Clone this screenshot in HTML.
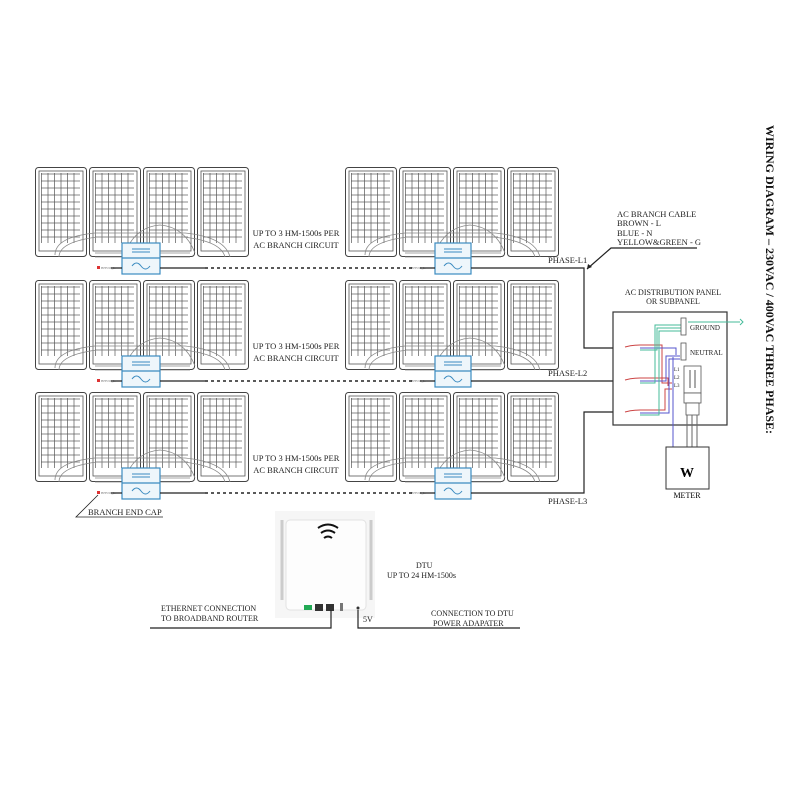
<!DOCTYPE html>
<html><head><meta charset="utf-8"><style>
html,body{margin:0;padding:0;background:#fff;}
svg{display:block;font-family:"Liberation Serif",serif;}
</style></head><body>
<svg width="800" height="800" viewBox="0 0 800 800" xmlns="http://www.w3.org/2000/svg">
<defs>
<pattern id="grid" x="0" y="0" width="6.5" height="7" patternUnits="userSpaceOnUse">
<rect width="6.5" height="7" fill="#fff" stroke="#555" stroke-width="0.7"/>
</pattern>
<symbol id="panel" width="52" height="90" viewBox="0 0 52 90">
<rect x="0.5" y="0.5" width="51" height="89" rx="3" fill="#fff" stroke="#444" stroke-width="1"/>
<rect x="4" y="4" width="44" height="80" fill="#fff" stroke="#555" stroke-width="0.8"/>
<rect x="6" y="6" width="39" height="70" fill="url(#grid)"/>
</symbol>
<symbol id="row" width="560" height="120" viewBox="0 0 560 120">
<use href="#panel" x="0" y="0"/><use href="#panel" x="54" y="0"/><use href="#panel" x="108" y="0"/><use href="#panel" x="162" y="0"/>
<use href="#panel" x="310" y="0"/><use href="#panel" x="364" y="0"/><use href="#panel" x="418" y="0"/><use href="#panel" x="472" y="0"/>
<g fill="none" stroke="#888" stroke-width="0.8">
<path d="M20 88 Q20 70 60 66 L150 66 Q190 70 195 90"/>
<path d="M24 90 Q24 75 62 70 L148 70 Q186 74 190 90"/>
<path d="M90 86 Q100 60 125 58 Q150 60 160 86"/>
<path d="M330 88 Q330 70 370 66 L460 66 Q500 70 505 90"/>
<path d="M334 90 Q334 75 372 70 L458 70 Q496 74 500 90"/>
<path d="M400 86 Q410 60 435 58 Q460 60 470 86"/>
<path d="M60 90 L87 90 M60 86 L87 86 M125 90 L155 90 M125 86 L155 86"/>
<path d="M370 90 L400 90 M370 86 L400 86 M436 90 L466 90 M436 86 L466 86"/>
</g>
<g stroke="#3b8bc0" stroke-width="1.2" fill="#eef6fb">
<rect x="87" y="76" width="38" height="31"/>
<line x1="87" y1="91" x2="125" y2="91"/>
<rect x="400" y="76" width="36" height="31"/>
<line x1="400" y1="91" x2="436" y2="91"/>
</g>
<g stroke="#3b8bc0" stroke-width="1" fill="none">
<path d="M97 82 H115 M97 85 H115"/><path d="M97 99 q4.5 -6 9 0 t9 0"/>
<path d="M409 82 H427 M409 85 H427"/><path d="M409 99 q4.5 -6 9 0 t9 0"/>
</g>
<rect x="62" y="99" width="3" height="3" fill="#d33"/>
<text x="66" y="102" font-size="3.5" fill="#777">BHVM_L</text>
<text x="376" y="102" font-size="3.5" fill="#777">BHVM_L</text>
<path d="M76 101 H87 M125 101 H170" stroke="#222" stroke-width="1.2"/>
<path d="M170 101 H380" stroke="#222" stroke-width="1.5" stroke-dasharray="3,3"/>
<path d="M385 101 H400 M436 101 H505" stroke="#222" stroke-width="1.2"/>
</symbol>
</defs>

<use href="#row" x="35" y="167"/>
<use href="#row" x="35" y="280"/>
<use href="#row" x="35" y="392"/>

<g font-size="8.5" fill="#222" text-anchor="middle">
<text x="296" y="236">UP TO 3 HM-1500s PER</text>
<text x="296" y="248">AC BRANCH CIRCUIT</text>
<text x="296" y="349">UP TO 3 HM-1500s PER</text>
<text x="296" y="361">AC BRANCH CIRCUIT</text>
<text x="296" y="461">UP TO 3 HM-1500s PER</text>
<text x="296" y="473">AC BRANCH CIRCUIT</text>
</g>
<g font-size="8.5" fill="#222">
<text x="548" y="263">PHASE-L1</text>
<text x="548" y="376">PHASE-L2</text>
<text x="548" y="504">PHASE-L3</text>
<text x="617" y="217">AC BRANCH CABLE</text>
<text x="617" y="226">BROWN - L</text>
<text x="617" y="236">BLUE - N</text>
<text x="617" y="245">YELLOW&amp;GREEN - G</text>
<text x="88" y="515">BRANCH END CAP</text>
</g>
<g stroke="#222" stroke-width="1.2" fill="none">
<path d="M540 268 H584 V348 H625"/>
<path d="M540 381 H625"/>
<path d="M540 493 H584 V412 H625"/>
<path d="M697 248 H611 L587 269"/>
<path d="M98 495 L76 517 H163" stroke-width="0.8"/>
</g>
<path d="M587 269 l1 -5 l4 3 z" fill="#222"/>

<g font-size="8" fill="#222" text-anchor="middle">
<text x="673" y="295">AC DISTRIBUTION PANEL</text>
<text x="673" y="304">OR SUBPANEL</text>
</g>
<rect x="613" y="312" width="114" height="113" fill="#fff" stroke="#333" stroke-width="1.2"/>
<g fill="none" stroke-width="1">
<path d="M625 347 Q632 345 640 345 H662 V383 H672" stroke="#c44"/>
<path d="M625 380 Q632 378 640 378 H668 V386" stroke="#c44"/>
<path d="M625 412 Q632 410 640 410 H665 V389 H672" stroke="#c44"/>
<path d="M640 348 H676 V355" stroke="#55c"/>
<path d="M640 381 H666 V356 H680" stroke="#55c"/>
<path d="M640 413 H669 V359 H680" stroke="#55c"/>
<path d="M640 350 H657 V328 H683" stroke="#4b9"/>
<path d="M640 383 H655 V325 H683" stroke="#4b9"/>
<path d="M640 415 H659 V331 H683" stroke="#4b9"/>
<path d="M688 322 H740" stroke="#4b9"/>
<path d="M673 357 V447" stroke="#55c"/>
</g>
<path d="M740 319 l3 3 l-3 3" fill="none" stroke="#4b9"/>
<g fill="#fff" stroke="#555" stroke-width="0.8">
<rect x="681" y="318" width="5" height="17"/>
<rect x="681" y="343" width="5" height="17"/>
<rect x="684" y="366" width="17" height="27"/>
<rect x="684" y="393" width="17" height="10"/>
<rect x="686" y="403" width="13" height="12"/>
</g>
<path d="M690 370 V388 M695 370 V388" stroke="#555"/>
<g font-size="7" fill="#222">
<text x="690" y="330">GROUND</text>
<text x="690" y="355">NEUTRAL</text>
<text x="674" y="371" font-size="5">L1</text>
<text x="674" y="379" font-size="5">L2</text>
<text x="674" y="387" font-size="5">L3</text>
</g>
<path d="M687 415 V447 M692 415 V447 M697 415 V447" stroke="#666"/>
<rect x="666" y="447" width="43" height="42" fill="#fff" stroke="#333" stroke-width="1"/>
<text x="687" y="477" font-size="14" font-weight="bold" text-anchor="middle">W</text>
<text x="687" y="498" font-size="8" text-anchor="middle">METER</text>

<rect x="275" y="511" width="100" height="107" fill="#f6f6f6"/>
<path d="M282 520 V600 M371 520 V600" stroke="#ccc" stroke-width="3"/>
<rect x="286" y="520" width="80" height="90" rx="4" fill="#fdfdfd" stroke="#e2e2e2"/>
<g fill="none" stroke="#111" stroke-width="2">
<path d="M318 528 Q328 521 338 528"/><path d="M321 533 Q328 528 335 533"/><path d="M324 538 Q328 535 332 538"/>
</g>
<rect x="304" y="605" width="8" height="5" fill="#2a5"/>
<rect x="315" y="604" width="8" height="7" fill="#333"/>
<rect x="326" y="604" width="8" height="7" fill="#333"/>
<rect x="340" y="603" width="3" height="8" fill="#777"/>
<circle cx="358" cy="608" r="1.5" fill="#333"/>
<g stroke="#222" stroke-width="1.2" fill="none">
<path d="M150 628 H331 V610"/>
<path d="M358 610 V628 H520"/>
</g>
<g font-size="8" fill="#222">
<text x="161" y="611">ETHERNET CONNECTION</text>
<text x="161" y="621">TO BROADBAND ROUTER</text>
<text x="363" y="622">5V</text>
<text x="431" y="616">CONNECTION TO DTU</text>
<text x="433" y="626">POWER ADAPATER</text>
<text x="416" y="568">DTU</text>
<text x="387" y="578">UP TO 24 HM-1500s</text>
</g>

<text transform="translate(766,125) rotate(90)" font-size="12" font-weight="bold" fill="#111">WIRING DIAGRAM – 230VAC / 400VAC THREE PHASE:</text>
</svg>
</body></html>
